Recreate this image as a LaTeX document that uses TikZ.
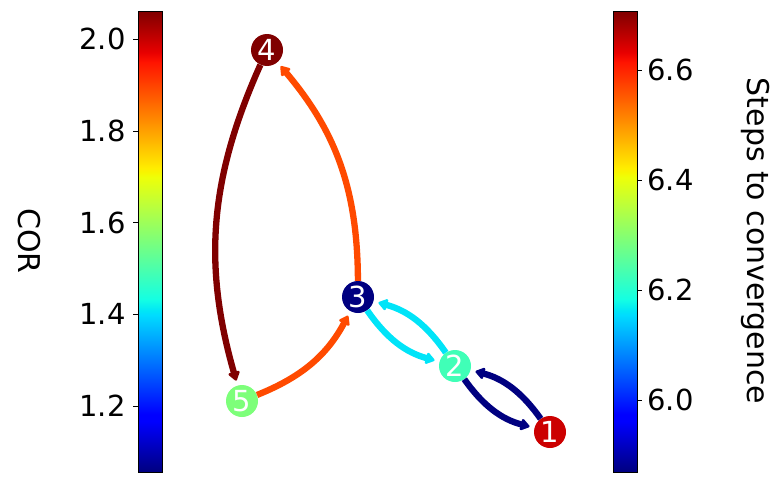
\documentclass[tikz,border=0pt]{standalone}
\usepackage{fontspec}
\setmainfont{DejaVu Sans}
\usetikzlibrary{arrows.meta}

\definecolor{jetnavy}{rgb}{0,0,0.5}
\definecolor{jetdark}{rgb}{0.5,0,0}
\definecolor{jetred}{RGB}{204,0,0}
\definecolor{jetaqua}{RGB}{64,255,183}
\definecolor{jetgreen}{RGB}{125,255,122}
\definecolor{jetcyan}{RGB}{0,228,248}
\definecolor{jetorange}{RGB}{255,74,0}

\pgfdeclareverticalshading{jet}{100bp}{rgb(0bp)=(0,0,0.5); rgb(25bp)=(0,0,0.5); rgb(30.5bp)=(0,0,1); rgb(31.25bp)=(0,0,1); rgb(42bp)=(0,0.86,1); rgb(42.5bp)=(0,0.9,0.968); rgb(43.75bp)=(0.081,1,0.887); rgb(57bp)=(0.935,1,0.032); rgb(57.5bp)=(0.968,0.963,0); rgb(58bp)=(1,0.926,0); rgb(69.5bp)=(1,0.074,0); rgb(70.5bp)=(0.909,0,0); rgb(75bp)=(0.5,0,0); rgb(100bp)=(0.5,0,0)}

\begin{document}
\begin{tikzpicture}[x=1pt, y=-1pt,
    graphnode/.style={circle, minimum size=32pt, inner sep=0pt, text=white, font=\fontsize{29}{29}\selectfont},
    arc/.style={line width=6.3pt, -{Triangle[length=10pt,width=13pt,round]}, shorten >=5pt, bend right=20},
    ticklabel/.style={font=\fontsize{29}{29}\selectfont, inner sep=0pt},
    barlabel/.style={font=\fontsize{30}{30}\selectfont, rotate=-90, inner sep=0pt},
    colorbar/.style={shading=jet, draw=black, line width=0.8pt}]
    \useasboundingbox (0,0) rectangle (774,482);
    % colorbars
    \path[colorbar] (138,11) rectangle (162,472);
    \path[colorbar] (613,11) rectangle (637,472);
    \foreach \v/\y [count=\i] in {1.2/406.1, 1.4/314.4, 1.6/222.7, 1.8/131.0, 2.0/39.3} {
        \coordinate (lt\i) at (138,\y);
        \draw[line width=0.8pt] (lt\i) -- ++(-5,0) node[ticklabel, anchor=east, xshift=-7pt] (cor\i) {\v};
    }
    \foreach \v/\y [count=\i] in {6.0/400, 6.2/290, 6.4/180, 6.6/70} {
        \coordinate (rt\i) at (637,\y);
        \draw[line width=0.8pt] (rt\i) -- ++(5,0) node[ticklabel, anchor=west, xshift=5pt] (steps\i) {\v};
    }
    \node[barlabel] (corlabel)   at (29,241)  {COR};
    \node[barlabel] (stepslabel) at (756,241) {Steps to convergence};
    % nodes
    \node[graphnode, fill=jetred]   (n1) at (550,432) {1};
    \node[graphnode, fill=jetaqua]  (n2) at (455,366) {2};
    \node[graphnode, fill=jetnavy]  (n3) at (358,297) {3};
    \node[graphnode, fill=jetdark]  (n4) at (267,50)  {4};
    \node[graphnode, fill=jetgreen] (n5) at (242,401) {5};
    % lines
    \draw[arc, jetnavy]   (n1) to (n2);
    \draw[arc, jetnavy]   (n2) to (n1);
    \draw[arc, jetcyan]   (n2) to (n3);
    \draw[arc, jetcyan]   (n3) to (n2);
    \draw[arc, jetorange] (n3) to (n4);
    \draw[arc, jetorange] (n5) to (n3);
    \draw[arc, jetdark]   (n4) to (n5);
\end{tikzpicture}
\end{document}
